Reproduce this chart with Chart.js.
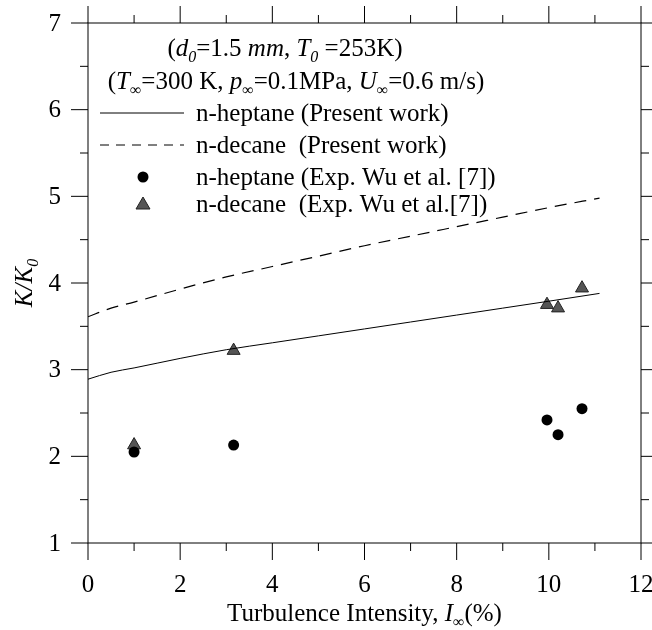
<!DOCTYPE html>
<html>
<head>
<meta charset="utf-8">
<script src="https://cdn.jsdelivr.net/npm/chart.js@4.4.0/dist/chart.umd.min.js"></script>
<style>
  html, body { margin: 0; padding: 0; background: #fff; }
</style>
</head>
<body>
<canvas id="kChart" width="652" height="630"></canvas>
<script>
// model curves (Present work)
const modelX = [0, 0.5, 1, 2, 3, 4, 5, 6, 7, 8, 9, 10, 11.1];
const heptaneModel = [2.89, 2.97, 3.02, 3.13, 3.23, 3.31, 3.39, 3.47, 3.55, 3.63, 3.71, 3.79, 3.88];
const decaneModel = [3.61, 3.71, 3.78, 3.93, 4.07, 4.19, 4.31, 4.43, 4.54, 4.65, 4.76, 4.87, 4.98];

// experiments (Wu et al.)
const expX = [1.0, 3.16, 9.96, 10.2, 10.72];
const heptaneExp = [2.05, 2.13, 2.42, 2.25, 2.55];
const decaneExp = [2.13, 3.22, 3.75, 3.71, 3.94];

const xTicks = [0, 2, 4, 6, 8, 10, 12];
const yTicks = [1, 2, 3, 4, 5, 6, 7];

const legendLabels = [
  "n-heptane (Present work)",
  "n-decane  (Present work)",
  "n-heptane (Exp. Wu et al. [7])",
  "n-decane  (Exp. Wu et al.[7])"
];

const FONT = "'Liberation Serif', 'Times New Roman', serif";

function pts(xs, ys) {
  return xs.map(function (x, i) { return { x: x, y: ys[i] }; });
}

// draw text made of pieces: [text, italic, subscript]
function drawRich(ctx, parts, x, y, size, align) {
  function fontFor(p) {
    var s = p[2] ? Math.round(size * 0.62) : size;
    return (p[1] ? "italic " : "") + s + "px " + FONT;
  }
  var total = 0;
  parts.forEach(function (p) {
    ctx.font = fontFor(p);
    total += ctx.measureText(p[0]).width;
  });
  var cx = x;
  if (align === "center") cx = x - total / 2;
  ctx.textAlign = "left";
  ctx.textBaseline = "alphabetic";
  parts.forEach(function (p) {
    ctx.font = fontFor(p);
    ctx.fillText(p[0], cx, p[2] ? y + size * 0.22 : y);
    cx += ctx.measureText(p[0]).width;
  });
}

const framePlugin = {
  id: "frame",
  afterDraw: function (chart) {
    const ctx = chart.ctx;
    const a = chart.chartArea;
    const xs = chart.scales.x;
    const ys = chart.scales.y;
    ctx.save();
    ctx.strokeStyle = "#000";
    ctx.lineWidth = 1;
    ctx.strokeRect(a.left, a.top, a.right - a.left, a.bottom - a.top);

    ctx.beginPath();
    for (let v = 0; v <= 12; v++) {
      const px = xs.getPixelForValue(v);
      const len = v % 2 === 0 ? 17 : 8;
      ctx.moveTo(px, a.bottom); ctx.lineTo(px, a.bottom + len);
      ctx.moveTo(px, a.top); ctx.lineTo(px, a.top - len);
    }
    for (let v = 1; v <= 7; v += 0.5) {
      const py = ys.getPixelForValue(v);
      const len = Number.isInteger(v) ? 17 : 8;
      ctx.moveTo(a.left, py); ctx.lineTo(a.left - len, py);
      ctx.moveTo(a.right, py); ctx.lineTo(a.right + len, py);
    }
    ctx.stroke();

    // tick labels
    ctx.fillStyle = "#000";
    ctx.font = "25px " + FONT;
    ctx.textAlign = "center";
    ctx.textBaseline = "middle";
    xTicks.forEach(function (v) {
      ctx.fillText(String(v), xs.getPixelForValue(v), a.bottom + 42);
    });
    ctx.textAlign = "right";
    yTicks.forEach(function (v) {
      ctx.fillText(String(v), a.left - 27, ys.getPixelForValue(v) + 1);
    });

    // axis titles
    drawRich(ctx, [["Turbulence Intensity, ", false, false], ["I", true, false], ["\u221E", false, true], ["(%)", false, false]],
      (a.left + a.right) / 2, 621, 25, "center");
    ctx.save();
    ctx.translate(32, (a.top + a.bottom) / 2);
    ctx.rotate(-Math.PI / 2);
    drawRich(ctx, [["K/K", true, false], ["0", true, true]], 0, 0, 25, "center");
    ctx.restore();

    // header text
    drawRich(ctx, [["(", false, false], ["d", true, false], ["0", true, true], ["=1.5 ", false, false], ["mm", true, false],
      [", ", false, false], ["T", true, false], ["0", true, true], [" =253K)", false, false]], 285, 56, 25, "center");
    drawRich(ctx, [["(", false, false], ["T", true, false], ["\u221E", false, true], ["=300 K, ", false, false],
      ["p", true, false], ["\u221E", false, true], ["=0.1MPa, ", false, false], ["U", true, false], ["\u221E", false, true],
      ["=0.6 m/s)", false, false]], 296, 89, 25, "center");

    // legend
    const rows = [113, 145, 177, 204];
    const tx = 196;
    ctx.lineWidth = 1;
    ctx.beginPath();
    ctx.moveTo(100, rows[0]); ctx.lineTo(184, rows[0]);
    ctx.stroke();
    ctx.setLineDash([9, 7]);
    ctx.beginPath();
    ctx.moveTo(100, rows[1]); ctx.lineTo(184, rows[1]);
    ctx.stroke();
    ctx.setLineDash([]);
    ctx.beginPath();
    ctx.arc(143, rows[2], 5.5, 0, Math.PI * 2);
    ctx.fill();
    ctx.beginPath();
    ctx.moveTo(143, rows[3] - 7); ctx.lineTo(150, rows[3] + 5); ctx.lineTo(136, rows[3] + 5); ctx.closePath();
    ctx.fillStyle = "#555";
    ctx.fill();
    ctx.strokeStyle = "#222";
    ctx.stroke();
    ctx.fillStyle = "#000";
    legendLabels.forEach(function (t, i) {
      ctx.font = "25px " + FONT;
      ctx.textAlign = "left";
      ctx.textBaseline = "middle";
      ctx.fillText(t, tx, rows[i] + 1);
    });
    ctx.restore();
  }
};

new Chart(document.getElementById("kChart"), {
  type: "line",
  data: {
    datasets: [
      {
        label: legendLabels[0],
        data: pts(modelX, heptaneModel),
        borderColor: "#000",
        borderWidth: 1,
        pointRadius: 0,
        cubicInterpolationMode: "monotone",
        fill: false
      },
      {
        label: legendLabels[1],
        data: pts(modelX, decaneModel),
        borderColor: "#000",
        borderWidth: 1.2,
        borderDash: [12, 8],
        pointRadius: 0,
        cubicInterpolationMode: "monotone",
        fill: false
      },
      {
        label: legendLabels[2],
        data: pts(expX, heptaneExp),
        showLine: false,
        pointStyle: "circle",
        pointRadius: 5.5,
        backgroundColor: "#000",
        borderColor: "#000",
        borderWidth: 0
      },
      {
        label: legendLabels[3],
        data: pts(expX, decaneExp),
        showLine: false,
        pointStyle: "triangle",
        pointRadius: 7.5,
        backgroundColor: "#555",
        borderColor: "#222",
        borderWidth: 1
      }
    ]
  },
  options: {
    responsive: false,
    animation: false,
    layout: { padding: { left: 88, right: 11, top: 23, bottom: 87 } },
    plugins: { legend: { display: false }, tooltip: { enabled: false } },
    scales: {
      x: { type: "linear", min: 0, max: 12, display: false },
      y: { type: "linear", min: 1, max: 7, display: false }
    }
  },
  plugins: [framePlugin]
});
</script>
</body>
</html>
